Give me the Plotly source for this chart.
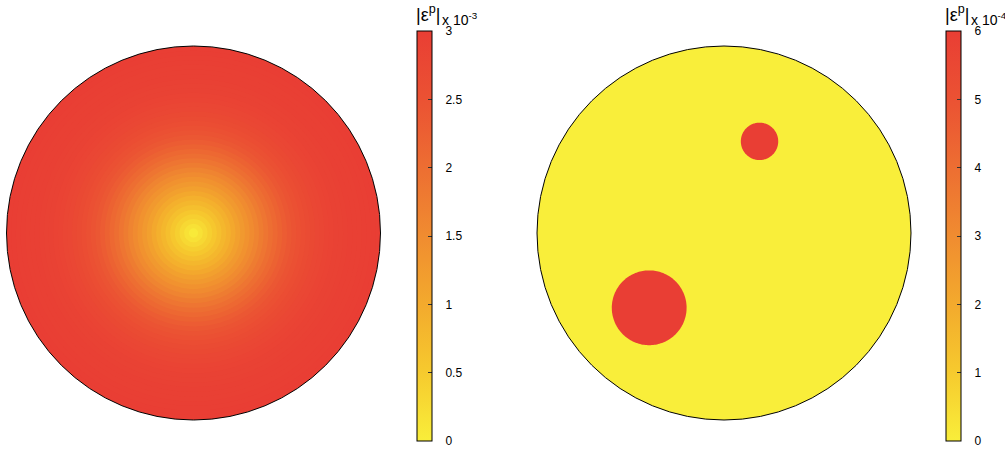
import numpy as np
import plotly.graph_objects as go

W, H = 1005, 453

# ---------------- data ----------------
# Left disk: |eps^p| (units of 1e-3) in concentric rings, outer radius as fraction of disk radius
ring_outer = [(i + 1) / 40 for i in range(40)]
ring_value = [0.06, 0.18, 0.30, 0.43, 0.55, 0.67, 0.79, 0.91, 1.03, 1.16,
              1.28, 1.40, 1.52, 1.64, 1.76, 1.88, 2.00, 2.11, 2.22, 2.32,
              2.41, 2.49, 2.56, 2.62, 2.68, 2.73, 2.77, 2.81, 2.84, 2.87,
              2.89, 2.91, 2.93, 2.94, 2.95, 2.96, 2.97, 2.98, 2.99, 3.00]
left_ticks = [0, 0.5, 1, 1.5, 2, 2.5, 3]
left_ticktext = ["0", "0.5", "1", "1.5", "2", "2.5", "3"]

# Right disk: background value 0, two inclusions at value 6 (units of 1e-4)
matrix_value = 0
incl_x = [-0.40, 0.19]
incl_y = [-0.40, 0.49]
incl_r = [0.20, 0.10]
incl_value = [6, 6]
right_ticks = [0, 1, 2, 3, 4, 5, 6]
right_ticktext = ["0", "1", "2", "3", "4", "5", "6"]

# ---------------- style ----------------
colorscale = [[0.0, "rgb(249,238,58)"], [0.167, "rgb(246,202,46)"],
              [0.333, "rgb(243,170,45)"], [0.5, "rgb(240,140,48)"],
              [0.667, "rgb(237,110,50)"], [0.833, "rgb(235,82,51)"],
              [1.0, "rgb(233,62,52)"]]
red = "rgb(233,62,52)"
font = "Liberation Sans"
pad = "\u00a0\u00a0\u00a0"


def px_x(p):
    return p / W


def px_y(p):
    return 1 - p / H


def cbar(xpix, ticks, text):
    return dict(thickness=15, thicknessmode="pixels",
                len=410 / H, lenmode="fraction",
                x=px_x(xpix), xanchor="left", y=px_y(236), yanchor="middle",
                xpad=0, ypad=0, outlinewidth=1, outlinecolor="black",
                tickmode="array", tickvals=ticks, ticktext=[pad + s for s in text],
                ticks="inside", ticklen=4, tickcolor="#333", tickwidth=1,
                tickfont=dict(family=font, size=12, color="black"))


fig = go.Figure()

n = len(ring_outer)
fig.add_trace(go.Barpolar(
    r=ring_outer[::-1], theta=[0] * n, width=[360] * n,
    marker=dict(color=ring_value[::-1], colorscale=colorscale, cmin=0, cmax=3,
                line=dict(width=0), colorbar=cbar(417, left_ticks, left_ticktext)),
    subplot="polar", hoverinfo="skip", showlegend=False))

fig.add_trace(go.Barpolar(
    r=[1], theta=[0], width=[360],
    marker=dict(color=[matrix_value], colorscale=colorscale, cmin=0, cmax=6,
                line=dict(width=0), colorbar=cbar(946, right_ticks, right_ticktext)),
    subplot="polar2", hoverinfo="skip", showlegend=False))

t = np.linspace(0, 2 * np.pi, 181)
for cx, cy, cr, cv in zip(incl_x, incl_y, incl_r, incl_value):
    xs = cx + cr * np.cos(t)
    ys = cy + cr * np.sin(t)
    fig.add_trace(go.Scatterpolar(
        r=np.hypot(xs, ys), theta=np.degrees(np.arctan2(ys, xs)),
        mode="lines", fill="toself", fillcolor=red,
        line=dict(width=0, color=red), subplot="polar2",
        hoverinfo="skip", showlegend=False))

polar_common = dict(
    bgcolor="white", hole=0,
    radialaxis=dict(visible=False, range=[0, 1]),
    angularaxis=dict(showline=True, linecolor="black", linewidth=1,
                     showticklabels=False, ticks="", showgrid=False),
    barmode="overlay")

fig.update_layout(
    width=W, height=H, autosize=False,
    margin=dict(l=0, r=0, t=0, b=0),
    paper_bgcolor="white", plot_bgcolor="white",
    polar=dict(domain=dict(x=[px_x(6.5), px_x(380.5)], y=[px_y(420), px_y(46)]),
               **polar_common),
    polar2=dict(domain=dict(x=[px_x(537), px_x(911)], y=[px_y(420), px_y(46)]),
                **polar_common),
)

for xl, exp in [(414, "-3"), (943, "-4")]:
    fig.add_annotation(x=px_x(xl), y=px_y(27), xref="paper", yref="paper",
                       xanchor="left", yanchor="bottom", showarrow=False,
                       text="|ε<sup>p</sup>|",
                       font=dict(family=font, size=18, color="black"))
    fig.add_annotation(x=px_x(xl + 26), y=px_y(30), xref="paper", yref="paper",
                       xanchor="left", yanchor="bottom", showarrow=False,
                       text="x 10<sup>" + exp + "</sup>",
                       font=dict(family=font, size=14, color="black"))

fig.write_html("out.html", config={"displayModeBar": False},
               post_script="document.body.style.margin='0';document.body.style.overflow='hidden';")
